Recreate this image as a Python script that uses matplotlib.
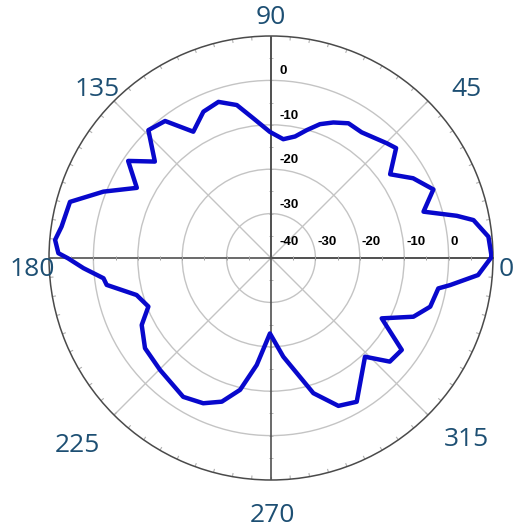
import numpy as np
import matplotlib
matplotlib.use("Agg")
from matplotlib import pyplot as plt
import matplotlib.transforms as mtrans

# pattern: angle (deg) and gain (dB)
angles_deg = [0.3, 5.6, 10.6, 12.8, 16.9, 22.9, 29.3, 35.1, 41.3, 44.8,
              54.2, 60.1, 65.3, 69.9, 74.4, 78.8, 84.1, 90.5, 97.2, 102.6,
              108.6, 114.8, 121.6, 127.7, 133.8, 140.3, 145.8, 152.4, 158.4, 164.4,
              171.5, 175.2, 178.7, 180.1, 183.1, 186.9, 189.3, 195.4, 201.6, 207.4,
              215.6, 225.3, 237.7, 245.0, 251.1, 256.8, 262.4, 269.2, 277.1, 287.4,
              294.5, 300.8, 313.6, 318.9, 324.9, 331.4, 337.6, 343.0, 349.7, 351.4,
              355.3, 360.3]
gain_db = [9.7, 9.2, 6.4, 2.9, -4.1, -0.3, -3.3, -7.2, -2.5, -3.3,
           -5.1, -5.0, -6.4, -7.9, -10.1, -12.1, -13.1, -11.6, -8.3, -4.7,
           -2.9, -3.7, -6.6, -1.0, -0.1, -6.0, -1.1, -5.9, 0.6, 7.0,
           7.7, 8.8, 7.9, 5.7, 2.3, -2.0, -2.5, -8.6, -10.3, -7.2,
           -5.1, -4.5, -3.0, -3.9, -5.8, -9.5, -15.7, -23.0, -17.6, -8.1,
           -3.4, -2.3, -9.3, -4.5, -4.0, -11.6, -5.3, -2.5, -1.7, 0.8,
           6.8, 9.7]

ring_values = [-30, -20, -10, 0]
r_labels = [-40, -30, -20, -10, 0]
theta_labels = ["0", "45", "90", "135", "180", "225", "270", "315"]
# label centres in pixels (x, y from top)
theta_label_px = [(506, 270), (466, 90), (271, 17), (97, 90),
                  (32, 270), (77, 445), (272, 515), (466, 440)]

W, H = 525, 531
fig = plt.figure(figsize=(W / 100, H / 100), dpi=100)
cx, cy, R = 271, 258, 222
ax = fig.add_axes([(cx - R) / W, (H - cy - R) / H, 2 * R / W, 2 * R / H], projection='polar')

r_min, r_max = -40, 10
ax.set_rlim(r_min, r_max)
ax.set_rgrids(ring_values, labels=[""] * len(ring_values))
ax.set_thetagrids([45, 135, 225, 315], labels=[""] * 4)
ax.grid(True, color='#c4c4c4', linewidth=1.0)
ax.spines['polar'].set_color('#4a4a4a')
ax.spines['polar'].set_linewidth(1.1)
ax.tick_params(length=0)

# little ticks inside the outer circle every 5 degrees
for a in np.deg2rad(np.arange(0, 360, 5)):
    ax.plot([a, a], [r_max - 0.7, r_max], color='#b0b0b0', lw=0.8, zorder=2)

# main axes lines through the centre
for t in [0, np.pi / 2]:
    ax.plot([t, t + np.pi], [r_max, r_max], color='#505050', lw=1.2, zorder=3)
    ax.plot([t, t], [r_min, r_max], color='#505050', lw=1.2, zorder=3)

# small ticks along the axes every 5 dB
tick_r = np.arange(-35, 10, 5)
for t in [0, np.pi]:
    ax.plot(np.full(tick_r.shape, t), tick_r, ls='none', marker='|', ms=3, mew=0.7, color='#a0a0a0', zorder=3)
for t in [np.pi / 2, 3 * np.pi / 2]:
    ax.plot(np.full(tick_r.shape, t), tick_r, ls='none', marker='_', ms=3, mew=0.7, color='#b8b8b8', zorder=2)

# radial value labels
off_h = mtrans.offset_copy(ax.transData, fig=fig, x=2, y=16, units='dots')
off_v = mtrans.offset_copy(ax.transData, fig=fig, x=9, y=9, units='dots')
for v in r_labels:
    if v == -40:
        ax.text(0, v, str(v), transform=mtrans.offset_copy(ax.transData, fig=fig, x=9, y=16, units='dots'),
                ha='left', va='center', fontsize=9.5, fontweight='bold', family='Liberation Sans', zorder=4)
        continue
    ax.text(0, v, str(v), transform=off_h, ha='left', va='center',
            fontsize=9.5, fontweight='bold', family='Liberation Sans', zorder=4)
    ax.text(np.pi / 2, v, str(v), transform=off_v, ha='left', va='center',
            fontsize=9.5, fontweight='bold', family='Liberation Sans', zorder=4)

ax.plot(np.deg2rad(angles_deg), gain_db, color='#0808cc', lw=3.2, zorder=5, solid_joinstyle='round')

for lab, (px, py) in zip(theta_labels, theta_label_px):
    fig.text(px / W, 1 - py / H, lab, ha='center', va='center', fontsize=19,
             color='#1d4f73', family='Open Sans')

fig.savefig('out.png', dpi=100)
